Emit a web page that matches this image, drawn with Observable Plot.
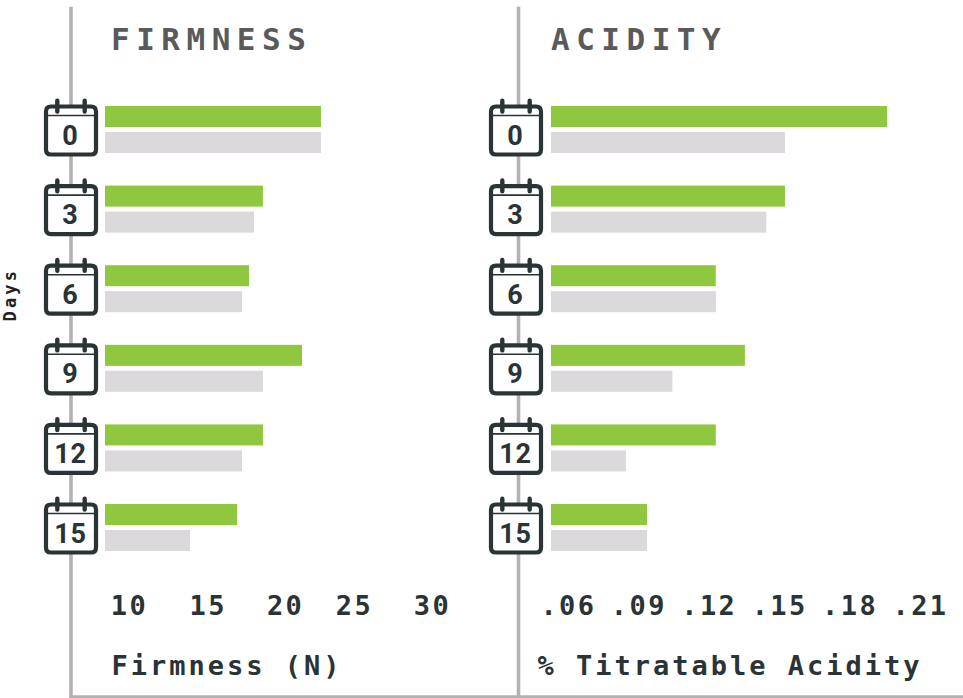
<!DOCTYPE html>
<html><head><meta charset="utf-8">
<script src="https://cdn.jsdelivr.net/npm/d3@7"></script>
<script src="https://cdn.jsdelivr.net/npm/@observablehq/plot@0.6"></script>
<style>
html,body{margin:0;padding:0;background:#fff;}
#wrap{position:relative;width:963px;height:698px;overflow:hidden;}
#wrap svg{position:absolute;left:0;top:0;background:none;}
.title{letter-spacing:6.5px;}
.tick{letter-spacing:2.4px;}
.axisname{letter-spacing:3px;}
.days{letter-spacing:3.2px;}
.num{letter-spacing:.8px;}
</style></head><body><div id="wrap"></div>
<script>
const days = ["0","3","6","9","12","15"];
const firmnessFresh = [22.67,18.84,17.92,21.42,18.84,17.13];
const firmnessStored = [22.67,18.25,17.46,18.84,17.46,14.03];
const firmnessTicks = [10,15,20,25,30];
const firmnessTickPlaces = [10,15.2,20.3,24.85,30];
const acidityFresh = [.196,.1525,.123,.1354,.123,.0937];
const acidityStored = [.1525,.1445,.123,.1045,.0847,.0937];
const acidityTicks = [.06,.09,.12,.15,.18,.21];
const series = ["Fresh","Stored"];
const colors = ["#8fc73f","#dbd9db"];
const ink = "#2a3335";
const mono = "DejaVu Sans Mono";

const body = {draw(c,size){
  const r=Math.sqrt(size/Math.PI), w=r*.926, t=-r*.889, b=r*.889, k=r*.185;
  c.moveTo(-w+k,t);c.lineTo(w-k,t);c.quadraticCurveTo(w,t,w,t+k);c.lineTo(w,b-k);c.quadraticCurveTo(w,b,w-k,b);
  c.lineTo(-w+k,b);c.quadraticCurveTo(-w,b,-w,b-k);c.lineTo(-w,t+k);c.quadraticCurveTo(-w,t,-w+k,t);c.closePath();
}};
const rings = {draw(c,size){
  const r=Math.sqrt(size/Math.PI);
  c.moveTo(-r*.507,-r*1.1);c.lineTo(-r*.507,-r*.7);
  c.moveTo(r*.507,-r*1.1);c.lineTo(r*.507,-r*.7);
}};
const header = {draw(c,size){
  const r=Math.sqrt(size/Math.PI);
  c.moveTo(-r*.926,-r*.556);c.lineTo(r*.926,-r*.556);
}};

function chrome({title,titleDx,axisName,axisDx,left,width,showDays}){
  return Plot.plot({
    width,height:698,
    marginLeft:left,marginRight:0,marginTop:8,marginBottom:1.7,
    style:{background:"none"},
    marks:[
      Plot.frame({anchor:"left",stroke:"#b5b1b3",strokeWidth:3.6}),
      Plot.frame({anchor:"bottom",stroke:"#b5b1b3",strokeWidth:3}),
      Plot.text([title],{frameAnchor:"top-left",dx:titleDx,dy:19,lineAnchor:"top",fontFamily:mono,fontWeight:700,fontSize:31,fill:"#5a5a5a",className:"title"}),
      Plot.text([axisName],{frameAnchor:"bottom-left",dx:axisDx,dy:-22,lineAnchor:"bottom",fontFamily:mono,fontWeight:700,fontSize:27,fill:ink,className:"axisname"}),
      showDays ? Plot.text(["Days"],{frameAnchor:"left",dx:-60,dy:-58,rotate:-90,textAnchor:"middle",fontFamily:mono,fontWeight:700,fontSize:17,fill:"#222",className:"days"}) : null
    ]
  });
}

function bars({fresh,stored,ticks,tickPlaces,tickFormat,domain,range,left,width,iconDx}){
  const rows = days.flatMap((d,i)=>[
    {day:d,series:series[0],value:fresh[i]},
    {day:d,series:series[1],value:stored[i]}]);
  const dayRows = days.map(d=>({day:d}));
  const tickRows = ticks.map((t,i)=>({label:tickFormat(t),place:tickPlaces[i]}));
  return Plot.plot({
    width,height:698,
    marginLeft:left,marginRight:0,marginTop:106,marginBottom:147,
    x:{domain,range,axis:null},
    y:{domain:series,axis:null,paddingInner:.19,paddingOuter:0,round:false},
    fy:{domain:days,axis:null,paddingInner:.41,paddingOuter:0,round:false},
    color:{domain:series,range:colors},
    style:{background:"none"},
    marks:[
      Plot.barX(rows,{x1:()=>domain[0],x2:"value",y:"series",fy:"day",fill:"series"}),
      Plot.dot(dayRows,{fy:"day",frameAnchor:"left",dx:iconDx,dy:.5,r:27,symbol:body,fill:"#fff",stroke:ink,strokeWidth:4.2}),
      Plot.dot(dayRows,{fy:"day",frameAnchor:"left",dx:iconDx,dy:.5,r:27,symbol:header,stroke:ink,strokeWidth:1.6}),
      Plot.dot(dayRows,{fy:"day",frameAnchor:"left",dx:iconDx,dy:.5,r:27,symbol:rings,stroke:ink,strokeWidth:4.4,strokeLinecap:"round"}),
      Plot.text(dayRows,{fy:"day",text:"day",frameAnchor:"left",dx:iconDx-.5,dy:6,textAnchor:"middle",fontFamily:"Roboto",fontWeight:700,fontSize:27,fill:ink,className:"num"}),
      Plot.text(tickRows,{x:"place",fy:()=>days[days.length-1],text:"label",dy:78,textAnchor:"middle",fontFamily:mono,fontWeight:700,fontSize:27,fill:ink,className:"tick"})
    ]
  });
}

const wrap = document.getElementById("wrap");
wrap.append(chrome({title:"FIRMNESS",titleDx:40,axisName:"Firmness (N)",axisDx:40.5,left:70.5,width:519,showDays:true}));
wrap.append(chrome({title:"ACIDITY",titleDx:32.5,axisName:"% Titratable Acidity",axisDx:19,left:518,width:963,showDays:false}));
wrap.append(bars({
  fresh:firmnessFresh,stored:firmnessStored,ticks:firmnessTicks,tickPlaces:firmnessTickPlaces,tickFormat:d=>String(d),
  domain:[8.416,30],range:[105,432],left:71.2,width:519,iconDx:-.7
}));
wrap.append(bars({
  fresh:acidityFresh,stored:acidityStored,ticks:acidityTicks,tickPlaces:acidityTicks,tickFormat:d=>d.toFixed(2).replace(/^0/,""),
  domain:[.0528,.21],range:[551,920],left:518,width:963,iconDx:-2.5
}));
</script></body></html>
